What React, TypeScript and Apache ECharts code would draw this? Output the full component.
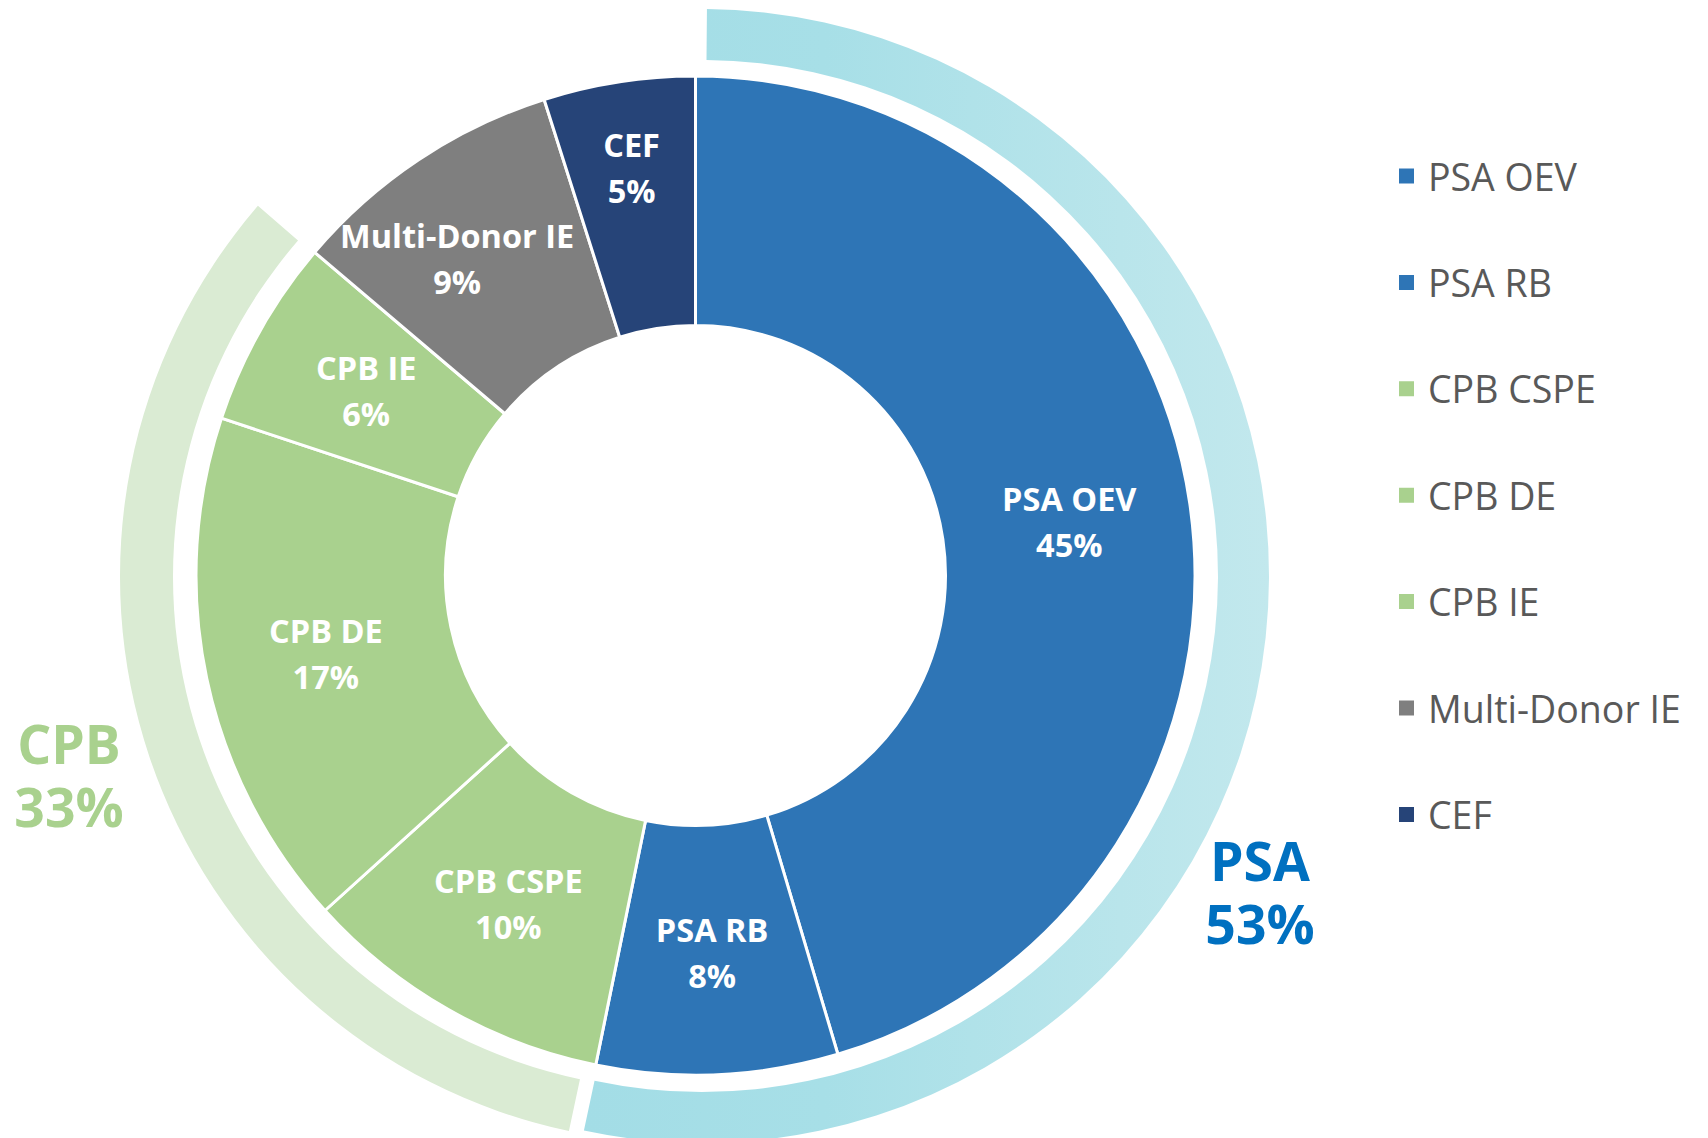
import React, { useEffect, useRef } from "react";
import * as echarts from "echarts";

// ---- Data ----
const categories = ["PSA OEV", "PSA RB", "CPB CSPE", "CPB DE", "CPB IE", "Multi-Donor IE", "CEF"];
const shares = [45.4, 7.8, 10.1, 16.8, 6.1, 8.9, 4.9];
const categoryGroup = ["PSA", "PSA", "CPB", "CPB", "CPB", "", ""];
const groupNames = ["PSA", "CPB"];

// ---- Styles ----
const sliceColors = ["#2E75B6", "#2E75B6", "#A9D18E", "#A9D18E", "#A9D18E", "#7F7F7F", "#264478"];
const FONT = "'Open Sans', 'DejaVu Sans', sans-serif";

const sum = (a: number[]) => a.reduce((s, v) => s + v, 0);
const groupTotal = (g: string) => sum(shares.filter((_, i) => categoryGroup[i] === g));

export default function App() {
  const ref = useRef<HTMLDivElement>(null);

  useEffect(() => {
    document.body.style.margin = "0";
    if (!ref.current) return;
    const chart = echarts.init(ref.current, undefined, { renderer: "svg" });

    const total = sum(shares);
    const psaTotal = groupTotal(groupNames[0]);
    const cpbTotal = groupTotal(groupNames[1]);
    const transparent = { color: "rgba(0,0,0,0)" };

    // label nudges (layout only) for the two narrow slices, as placed in the reference
    const nudges: Record<number, { dx: number; dy: number }> = {
      5: { dx: -29, dy: -3 },
      6: { dx: -6, dy: -35 },
    };

    const option: any = {
      animation: false,
      backgroundColor: "#ffffff",
      legend: {
        orient: "vertical",
        left: 1392,
        top: 151,
        itemWidth: 17,
        itemHeight: 17,
        itemGap: 66.4,
        icon: "rect",
        selectedMode: false,
        data: categories,
        textStyle: {
          fontFamily: FONT,
          fontSize: 37.5,
          color: "#595959",
          lineHeight: 40,
          padding: [0, 0, 0, 8],
        },
      },
      graphic: [
        {
          type: "text",
          x: 1260,
          y: 892,
          silent: true,
          style: {
            text: `${groupNames[0]}\n${Math.round((psaTotal / total) * 100)}%`,
            fill: "#0070C0",
            font: `bold 53.5px ${FONT}`,
            lineHeight: 63,
            align: "center",
            verticalAlign: "middle",
          },
        },
        {
          type: "text",
          x: 69,
          y: 775,
          silent: true,
          style: {
            text: `${groupNames[1]}\n${Math.round((cpbTotal / total) * 100)}%`,
            fill: "#A9D18E",
            font: `bold 53.5px ${FONT}`,
            lineHeight: 63,
            align: "center",
            verticalAlign: "middle",
          },
        },
      ],
      series: [
        {
          type: "pie",
          name: "detail",
          center: [695.5, 575.5],
          radius: [250, 499.5],
          startAngle: 90,
          clockwise: true,
          silent: true,
          avoidLabelOverlap: false,
          emphasis: { disabled: true },
          itemStyle: { borderColor: "#ffffff", borderWidth: 3 },
          label: {
            show: true,
            position: "inside",
            formatter: (p: any) => `${p.name}\n${Math.round(p.percent)}%`,
            color: "#ffffff",
            fontFamily: FONT,
            fontWeight: "bold",
            fontSize: 32.5,
            lineHeight: 46,
            textBorderWidth: 0,
          },
          labelLine: { show: false },
          labelLayout: (params: any) => nudges[params.dataIndex] || {},
          data: categories.map((n, i) => ({
            name: n,
            value: shares[i],
            itemStyle: { color: sliceColors[i] },
          })),
        },
        {
          type: "pie",
          name: "psaRing",
          center: [702, 576],
          radius: [516, 567],
          startAngle: 89.5,
          clockwise: true,
          silent: true,
          emphasis: { disabled: true },
          label: { show: false },
          labelLine: { show: false },
          data: [
            {
              name: groupNames[0],
              value: psaTotal,
              itemStyle: {
                color: new echarts.graphic.LinearGradient(0, 0, 1, 0, [
                  { offset: 0, color: "#A3DDE6" },
                  { offset: 0.35, color: "#A7DFE7" },
                  { offset: 1, color: "#C2E8ED" },
                ]),
              },
            },
            { name: "psaRest", value: total - psaTotal, itemStyle: transparent },
          ],
        },
        {
          type: "pie",
          name: "cpbRing",
          center: [687, 576.5],
          radius: [514, 567],
          startAngle: 89.5,
          clockwise: true,
          silent: true,
          emphasis: { disabled: true },
          label: { show: false },
          labelLine: { show: false },
          data: [
            { name: "cpbBefore", value: psaTotal, itemStyle: transparent },
            { name: groupNames[1], value: cpbTotal, itemStyle: { color: "#DAEBD3" } },
            { name: "cpbAfter", value: total - psaTotal - cpbTotal, itemStyle: transparent },
          ],
        },
      ],
    };

    chart.setOption(option);
    return () => chart.dispose();
  }, []);

  return <div ref={ref} style={{ width: 1708, height: 1138 }} />;
}
